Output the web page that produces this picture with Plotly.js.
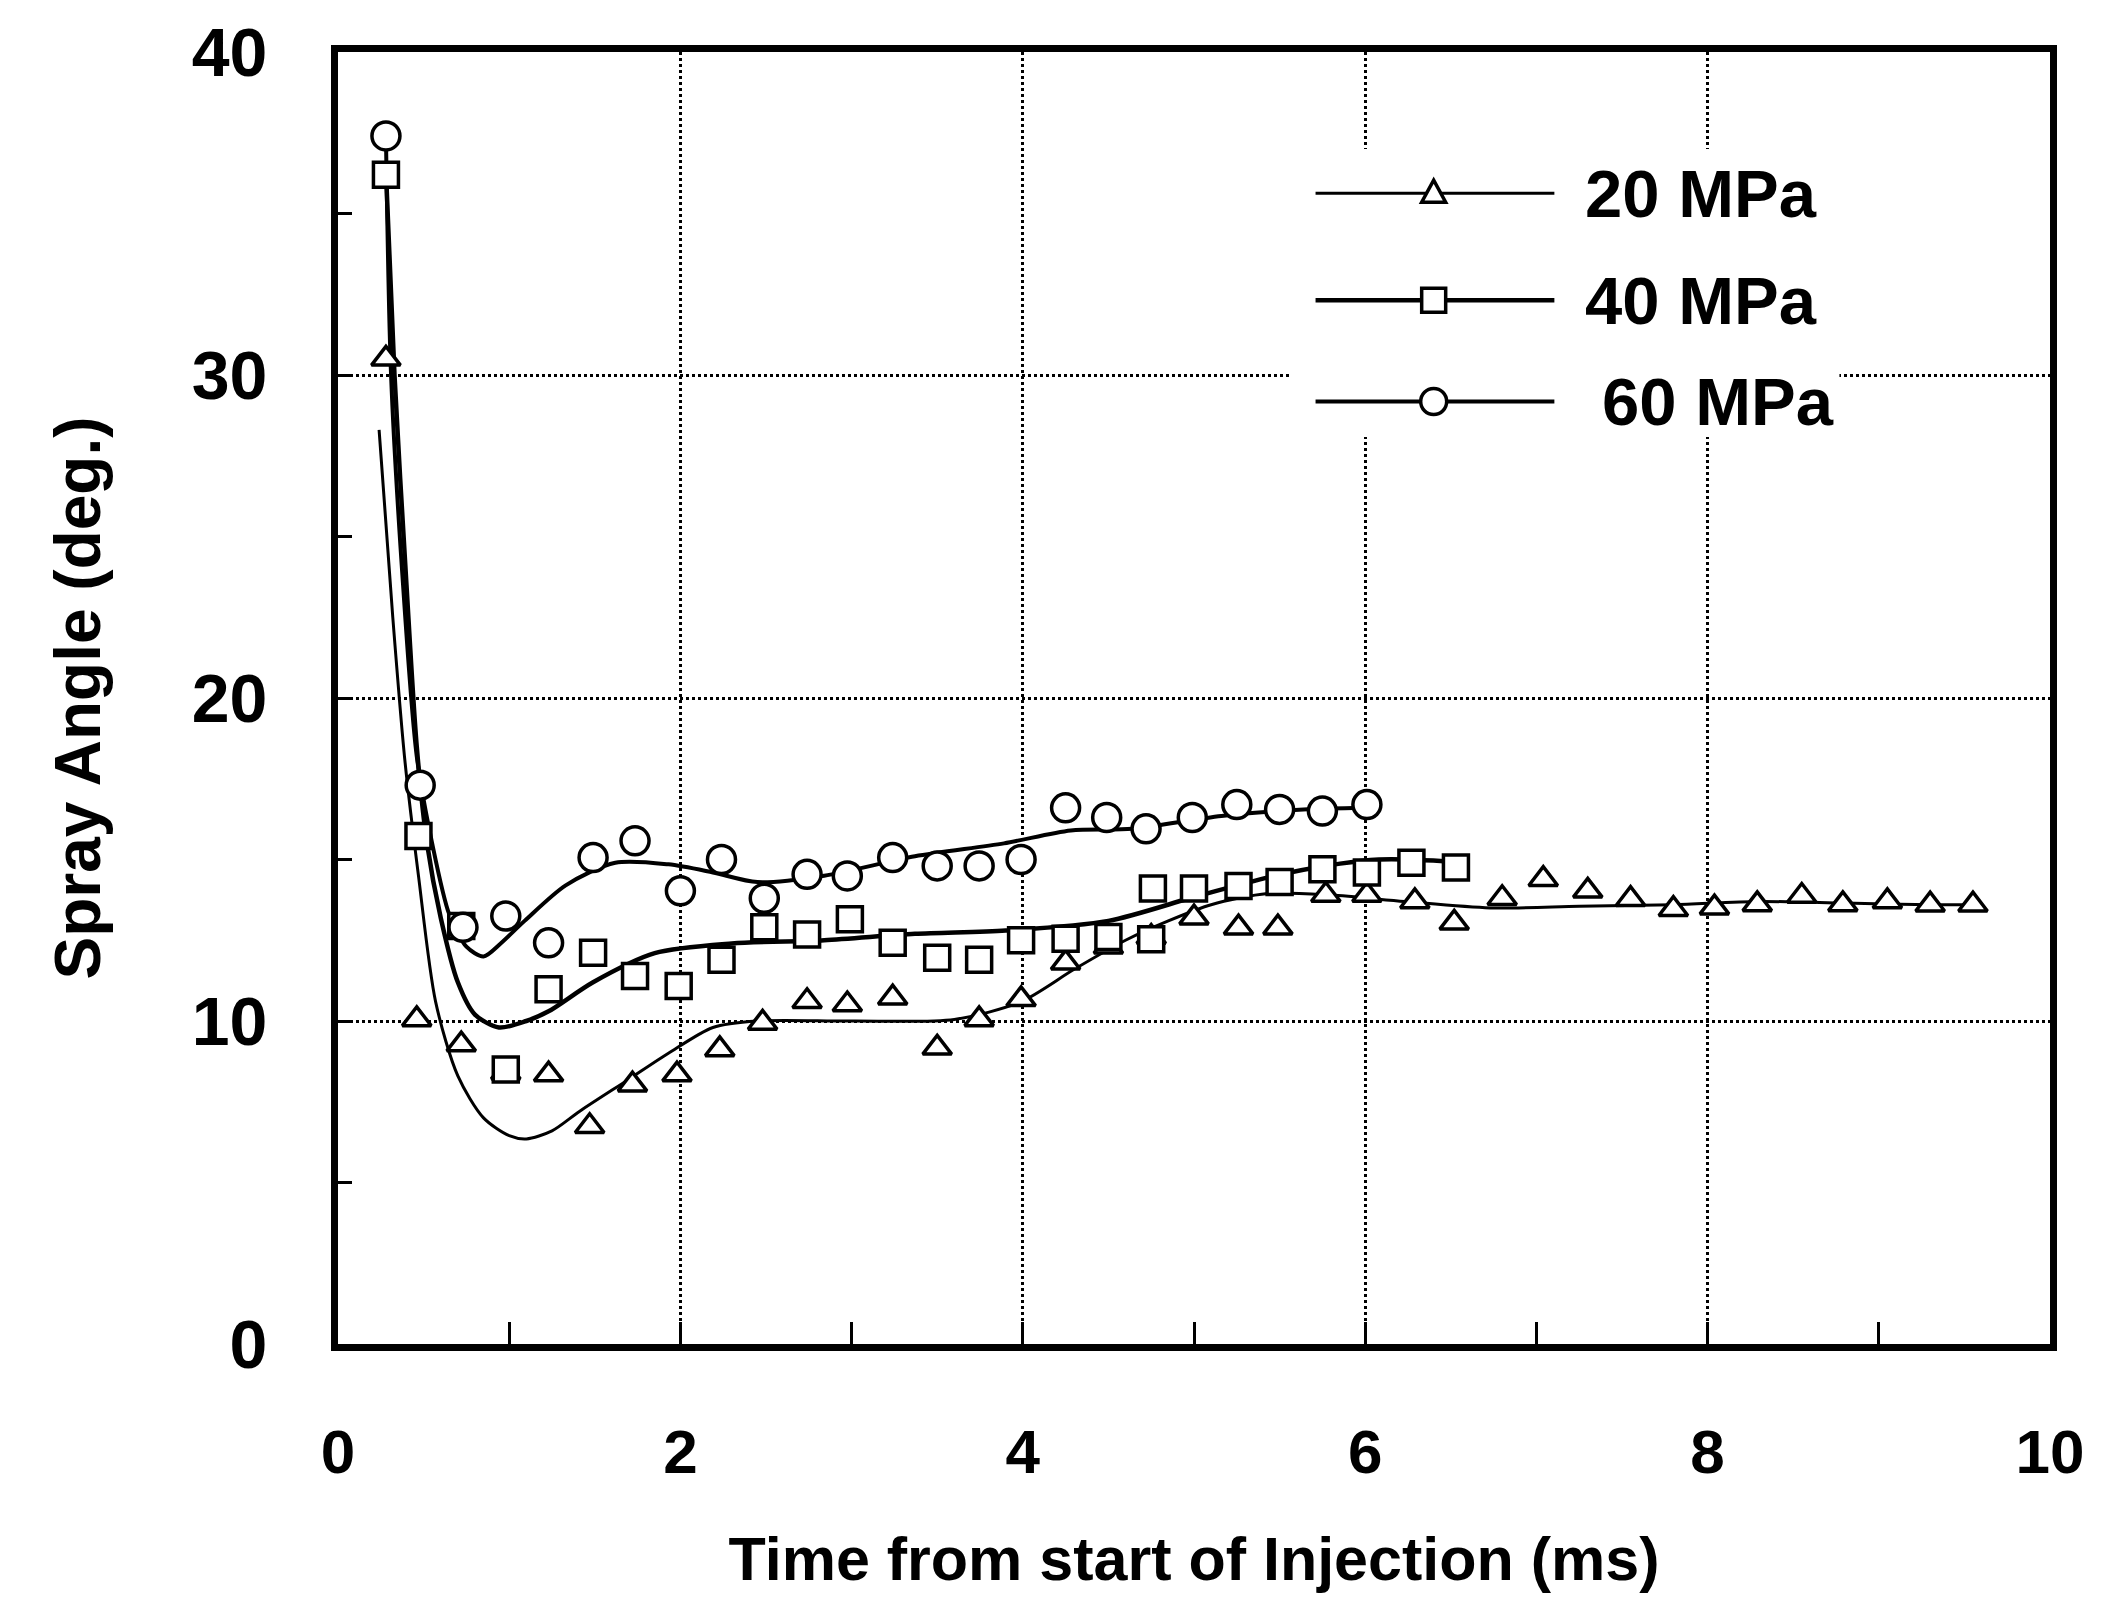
<!DOCTYPE html>
<html>
<head>
<meta charset="utf-8">
<script src="https://cdn.plot.ly/plotly-3.0.1.min.js"></script>
<style>html,body{margin:0;padding:0;background:#fff;}#chart{width:2124px;height:1601px;}</style>
</head>
<body>
<div id="chart"></div>
<script>
// ---- measured data (time ms, spray angle deg) ----
const t20 = [0.28,0.46,0.72,0.98,1.23,1.47,1.72,1.98,2.23,2.48,2.74,2.975,3.24,3.50,3.745,3.99,4.25,4.50,4.75,5.00,5.26,5.49,5.77,6.01,6.29,6.52,6.80,7.04,7.30,7.55,7.80,8.04,8.29,8.55,8.79,9.05,9.30,9.55];
const a20 = [30.5,10.05,9.27,8.4,8.34,6.74,8.03,8.34,9.12,9.94,10.61,10.51,10.72,9.17,10.05,10.67,11.8,12.3,12.6,13.2,12.89,12.89,13.9,13.9,13.7,13.04,13.8,14.39,14.03,13.77,13.46,13.51,13.61,13.87,13.61,13.7,13.6,13.6];

const t40 = [0.28,0.47,0.72,0.98,1.23,1.49,1.735,1.99,2.24,2.49,2.74,2.99,3.24,3.50,3.745,3.99,4.25,4.50,4.75,4.76,5.00,5.26,5.50,5.75,6.01,6.27,6.53];
const a40 = [36.2,15.73,12.94,8.5,10.98,12.11,11.39,11.08,11.9,12.9,12.68,13.15,12.42,11.96,11.9,12.5,12.55,12.6,12.53,14.1,14.1,14.18,14.3,14.7,14.6,14.9,14.75];

const t60 = [0.28,0.48,0.73,0.98,1.23,1.49,1.735,2.00,2.24,2.49,2.74,2.975,3.24,3.50,3.745,3.99,4.25,4.49,4.72,4.99,5.25,5.50,5.75,6.01];
const a60 = [37.4,17.3,12.9,13.25,12.42,15.06,15.58,14.03,15.0,13.8,14.54,14.49,15.06,14.8,14.8,15.0,16.6,16.3,15.95,16.3,16.7,16.55,16.5,16.7];

// fitted curves
const fitT20 = [0.24,0.32,0.39,0.47,0.57,0.70,0.85,1.00,1.10,1.25,1.41,1.70,1.93,2.19,2.45,3.00,3.60,3.99,4.30,4.60,4.85,5.10,5.43,5.80,6.23,6.73,7.25,7.80,8.30,8.80,9.30,9.60];
const fitA20 = [28.3,22.5,18.1,14.5,10.6,8.3,7.0,6.45,6.35,6.6,7.2,8.2,9.0,9.8,10.0,10.0,10.05,10.6,11.6,12.5,13.1,13.6,13.95,13.9,13.7,13.5,13.55,13.6,13.7,13.65,13.6,13.6];

const fitT40 = [0.28,0.33,0.40,0.46,0.52,0.60,0.70,0.80,0.94,1.10,1.23,1.49,1.85,2.30,2.84,3.37,3.90,4.50,5.04,5.56,6.08,6.60];
const fitA40 = [36.3,30.0,23.5,18.5,15.5,13.2,11.2,10.2,9.8,10.0,10.3,11.2,12.1,12.4,12.5,12.7,12.8,13.1,13.9,14.6,15.0,14.9];

const fitT60 = [0.28,0.31,0.38,0.46,0.55,0.65,0.75,0.85,0.95,1.09,1.33,1.62,1.93,2.19,2.45,2.84,3.37,3.89,4.28,4.64,5.16,5.69,6.05];
const fitA60 = [37.4,30.0,23.5,18.2,15.5,13.3,12.3,12.0,12.4,13.1,14.2,14.9,14.85,14.6,14.3,14.5,15.1,15.5,15.9,15.95,16.35,16.56,16.6];

const seriesNames = ['20 MPa','40 MPa','60 MPa'];
const xTickVals = [0,2,4,6,8,10];
const yTickVals = [0,10,20,30,40];

const FONT = "'Liberation Sans',Arial,Helvetica,sans-serif";

function fit(x, y, w) {
  return {x: x, y: y, mode: 'lines', line: {color: '#000', width: w, shape: 'spline', smoothing: 0.8},
          showlegend: false, hoverinfo: 'skip'};
}
function pts(x, y, sym, sz, name) {
  return {x: x, y: y, mode: 'markers', name: name, showlegend: false,
          marker: {symbol: sym, size: sz, color: '#fff', line: {color: '#000', width: 3.5}}};
}

const traces = [
  fit(fitT20, fitA20, 3),
  fit(fitT40, fitA40, 4.5),
  fit(fitT60, fitA60, 4),
  pts(t20, a20, 'triangle-up', 25, seriesNames[0]),
  pts(t40, a40, 'square', 25, seriesNames[1]),
  pts(t60, a60, 'circle', 28, seriesNames[2])
];

// manual legend (paper coordinates)
const legRows = [0.8907, 0.8078, 0.7295];
const legLineW = [3, 4.5, 4];
const shapes = [
  {type:'rect', xref:'paper', yref:'paper', x0:0.556, x1:0.877, y0:0.702, y1:0.925,
   fillcolor:'#fff', line:{width:0}, layer:'above'}
];
legRows.forEach(function(y, i){
  shapes.push({type:'line', xref:'paper', yref:'paper', x0:0.571, x1:0.7105, y0:y, y1:y,
               line:{color:'#000', width:legLineW[i]}, layer:'above'});
});
shapes.push({type:'path', xref:'paper', yref:'paper', xsizemode:'pixel', ysizemode:'pixel',
  xanchor:0.640, yanchor:legRows[0], path:'M-12,-9 L12,-9 L0,13 Z',
  fillcolor:'#fff', line:{color:'#000', width:3.5}, layer:'above'});
shapes.push({type:'rect', xref:'paper', yref:'paper', xsizemode:'pixel', ysizemode:'pixel',
  xanchor:0.640, yanchor:legRows[1], x0:-12, x1:12, y0:-12, y1:12,
  fillcolor:'#fff', line:{color:'#000', width:3.5}, layer:'above'});
shapes.push({type:'circle', xref:'paper', yref:'paper', xsizemode:'pixel', ysizemode:'pixel',
  xanchor:0.640, yanchor:legRows[2], x0:-13, x1:13, y0:-13, y1:13,
  fillcolor:'#fff', line:{color:'#000', width:3.5}, layer:'above'});

const annotations = legRows.map(function(y, i){
  return {xref:'paper', yref:'paper', x: i === 2 ? 0.737 : 0.7275, y: y, xanchor:'left', yanchor:'middle',
          text: seriesNames[i], showarrow:false,
          font:{family:FONT, size:67, color:'#000', weight:'bold'}};
});

const axisCommon = {
  showline: true, linecolor: '#000', linewidth: 7, mirror: true,
  ticks: 'inside', tickcolor: '#000', tickwidth: 3,
  showgrid: true, gridcolor: '#000', gridwidth: 3, griddash: 'dot',
  zeroline: false, fixedrange: true
};

const layout = {
  width: 2124, height: 1601,
  margin: {l: 338, r: 74, t: 52, b: 257},
  paper_bgcolor: '#fff', plot_bgcolor: '#fff',
  font: {family: FONT, color: '#000', weight: 'bold'},
  showlegend: false,
  xaxis: Object.assign({}, axisCommon, {
    range: [0, 10], tickvals: xTickVals, ticktext: xTickVals.map(String), ticklen: 22,
    minor: {dtick: 1, ticks: 'inside', ticklen: 22, tickwidth: 3, tickcolor: '#000', showgrid: false},
    ticklabelstandoff: 48,
    tickfont: {family: FONT, size: 62, weight: 'bold'},
    title: {text: 'Time from start of Injection (ms)', standoff: 54,
            font: {family: FONT, size: 61, weight: 'bold'}}
  }),
  yaxis: Object.assign({}, axisCommon, {
    range: [0, 40], tickvals: yTickVals, ticktext: yTickVals.map(String), ticklen: 14,
    minor: {dtick: 5, ticks: 'inside', ticklen: 14, tickwidth: 3, tickcolor: '#000', showgrid: false},
    ticklabelstandoff: 50,
    tickfont: {family: FONT, size: 68, weight: 'bold'},
    title: {text: 'Spray Angle (deg.)', standoff: 73,
            font: {family: FONT, size: 64, weight: 'bold'}}
  }),
  shapes: shapes,
  annotations: annotations
};

Plotly.newPlot('chart', traces, layout, {staticPlot: true, displayModeBar: false});
</script>
</body>
</html>
